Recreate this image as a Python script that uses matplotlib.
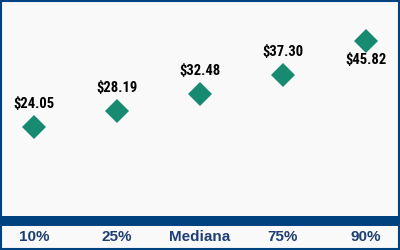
import matplotlib
matplotlib.use("Agg")
import matplotlib.pyplot as plt
from matplotlib.patches import Rectangle
from matplotlib import font_manager

categories = ["10%", "25%", "Mediana", "75%", "90%"]
values = [24.05, 28.19, 32.48, 37.30, 45.82]
labels = ["$24.05", "$28.19", "$32.48", "$37.30", "$45.82"]
label_below = [False, False, False, False, True]

available = {f.name for f in font_manager.fontManager.ttflist}
narrow = None
for cand in ["Liberation Sans Narrow", "DejaVu Sans Condensed", "Roboto Condensed", "Open Sans Condensed"]:
    if cand in available:
        narrow = cand
        break

W, H = 400, 250
fig = plt.figure(figsize=(4, 2.5), dpi=100)
fig.patch.set_facecolor("#f9f9f9")

navy = "#00427f"
ax = fig.add_axes([0, 1 - 216 / H, 1, 216 / H])
ax.set_facecolor("#f9f9f9")
for s in ax.spines.values():
    s.set_visible(False)

x = list(range(len(categories)))
ax.plot(x, values, linestyle="none", marker="D", markersize=12,
        color="#178a72", markeredgewidth=0)
ax.set_xlim(-0.41, 4.41)
ax.set_ylim(1.5, 56.2)
ax.set_yticks([])
ax.set_xticks(x)
ax.set_xticklabels(categories)
for t in ax.get_xticklabels():
    t.set_fontfamily("Liberation Sans")
    t.set_fontweight("bold")
    t.set_fontsize(11)
    t.set_color("#1f3f73")
ax.tick_params(axis="x", length=0, pad=10)

if narrow:
    lab_font = dict(family=narrow, fontsize=10.5, fontweight="bold")
else:
    lab_font = dict(family="Liberation Sans", fontsize=8, fontweight="bold")

for xi, v, lab, below in zip(x, values, labels, label_below):
    off = -19 if below else 23
    ax.annotate(lab, (xi, v), xytext=(0, off * 0.72), textcoords="offset points",
                ha="center", va="center", color="black", **lab_font)

# thick bar
fig.patches.append(Rectangle((0, 24 / H), 1, 10 / H, transform=fig.transFigure,
                             facecolor=navy, edgecolor="none", zorder=3))
# border
fig.patches.append(Rectangle((0.002, 0.003), 0.995, 0.994, transform=fig.transFigure,
                             facecolor="none", edgecolor=navy, linewidth=1.5, zorder=4))
fig.savefig("out.png", dpi=100, facecolor=fig.get_facecolor())
